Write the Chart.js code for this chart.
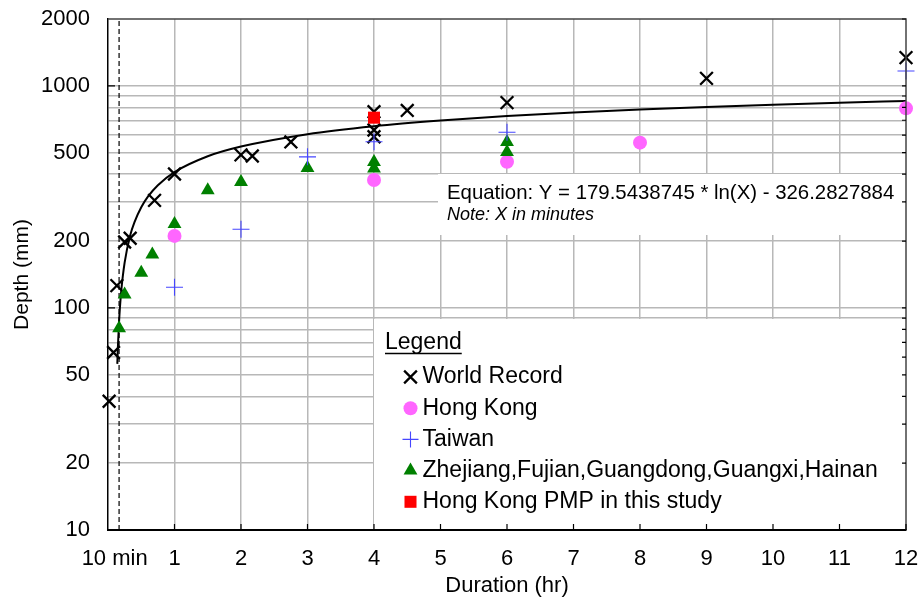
<!DOCTYPE html>
<html lang="en">
<head>
<meta charset="UTF-8">
<title>Depth-Duration Envelope</title>
<script src="https://cdn.jsdelivr.net/npm/chart.js"></script>
<style>
  html, body { margin: 0; padding: 0; background: #fff; }
  canvas { display: block; }
</style>
</head>
<body>
<canvas id="chart" width="921" height="599"></canvas>
<script>
// ---- data (duration in hours, depth in mm) ----
const wrHours  = [1/60, 5/60, 8/60, 15/60, 20/60, 42/60, 1, 2, 2.17, 2.75, 4, 4, 4, 4.5, 6, 9, 12];
const wrDepth  = [38, 63, 126, 198, 206, 305, 401, 489, 483, 559, 765, 633, 590, 775, 840, 1081, 1340];

const hkHours  = [1, 4, 6, 8, 12];
const hkDepth  = [211, 377, 455, 555, 792];

const twHours  = [1, 2, 3, 4, 6, 12];
const twDepth  = [124, 226, 479, 560, 618, 1166];

const cnHours  = [10/60, 15/60, 0.5, 40/60, 1, 1.5, 2, 3, 4, 4, 6, 6];
const cnDepth  = [81, 115, 144, 174, 239, 339, 369, 427, 454, 424, 559, 504];

const pmpHours = [4];
const pmpDepth = [719];

// fitted envelope curve as drawn
const fitHours = [0.14, 0.15, 10/60, 0.18, 0.2, 0.25, 1/3, 0.4, 0.5, 0.6, 0.75, 1, 1.5, 2, 3, 4, 5, 6, 7, 8, 9, 10, 11, 12];
const fitDepth = [56, 68, 87, 101, 120, 160, 212, 244, 284, 317, 357, 409, 482, 533, 606, 658, 698, 731, 758, 782, 803, 822, 839, 855];

const tenMin = 10 / 60;

// axis ticks
const xTickValues = [0.1, 1, 2, 3, 4, 5, 6, 7, 8, 9, 10, 11, 12];
const xTickLabels = ['10 min', '1', '2', '3', '4', '5', '6', '7', '8', '9', '10', '11', '12'];
const yGridValues = [10, 20, 30, 40, 50, 60, 70, 80, 90, 100, 200, 300, 400, 500, 600, 700, 800, 900, 1000, 2000];
const yTickLabels = [10, 20, 50, 100, 200, 500, 1000, 2000];

const FONT = "'Liberation Sans', Arial, Helvetica, sans-serif";
Chart.defaults.font.family = FONT;
Chart.defaults.color = '#000';

function pts(xs, ys) {
    return xs.map((x, i) => ({ x: x, y: ys[i] }));
}

const GRID = '#b8b8b8';

const framePlugin = {
    id: 'frame',
    beforeDatasetsDraw(chart) {
        const { ctx, chartArea: a } = chart;
        ctx.save();
        ctx.fillStyle = '#fff';
        // box behind the equation text
        ctx.fillRect(438, 174, a.right - 1 - 438, 61);
        // legend box
        ctx.fillRect(374, 319, a.right - 1 - 374, a.bottom - 320);
        ctx.restore();
    },
    afterDraw(chart) {
        const { ctx, chartArea: a, scales } = chart;
        const xs = scales.x, ys = scales.y;
        ctx.save();

        // top and right frame
        ctx.strokeStyle = '#444';
        ctx.lineWidth = 1.5;
        ctx.beginPath();
        ctx.moveTo(a.left, a.top);
        ctx.lineTo(a.right, a.top);
        ctx.lineTo(a.right, a.bottom);
        ctx.stroke();

        // small inside tick marks
        ctx.strokeStyle = '#000';
        ctx.lineWidth = 1.2;
        ctx.beginPath();
        [100, 1000].forEach(v => {
            const y = ys.getPixelForValue(v);
            ctx.moveTo(a.left, y); ctx.lineTo(a.left + 7, y);
        });
        yGridValues.forEach(v => {
            const y = ys.getPixelForValue(v);
            ctx.moveTo(a.right, y); ctx.lineTo(a.right - 4, y);
        });
        xTickValues.slice(1).forEach(v => {
            const x = xs.getPixelForValue(v);
            ctx.moveTo(x, a.bottom); ctx.lineTo(x, a.bottom - 6);
        });
        ctx.stroke();

        // equation
        ctx.fillStyle = '#000';
        ctx.textBaseline = 'middle';
        ctx.textAlign = 'left';
        ctx.font = '20.4px ' + FONT;
        ctx.fillText('Equation: Y = 179.5438745 * ln(X) - 326.2827884', 447, 193);
        ctx.font = 'italic 18px ' + FONT;
        ctx.fillText('Note: X in minutes', 447, 215);

        // legend
        ctx.font = '23px ' + FONT;
        ctx.fillText('Legend', 385, 343);
        const w = ctx.measureText('Legend').width;
        ctx.lineWidth = 1.5;
        ctx.beginPath();
        ctx.moveTo(385, 353.5); ctx.lineTo(385 + w, 353.5);
        ctx.stroke();

        const items = chart.data.datasets.filter(d => d.inLegend);
        items.forEach((d, i) => {
            const y = 377 + i * 31.2;
            ctx.fillStyle = d.backgroundColor || d.borderColor;
            ctx.strokeStyle = d.borderColor;
            ctx.lineWidth = d.borderWidth;
            Chart.helpers.drawPoint(ctx, {
                pointStyle: d.pointStyle,
                radius: d.legendRadius,
                borderWidth: d.borderWidth,
                rotation: 0
            }, 410.5, y);
            ctx.fillStyle = '#000';
            ctx.fillText(d.label, 422.5, y);
        });
        ctx.restore();
    }
};

new Chart(document.getElementById('chart'), {
    type: 'scatter',
    data: {
        datasets: [{
            label: 'World Record',
            data: pts(wrHours, wrDepth),
            pointStyle: 'crossRot',
            pointRadius: 9,
            legendRadius: 9,
            borderColor: '#000',
            backgroundColor: '#000',
            borderWidth: 2.3,
            inLegend: true,
            clip: false,
            order: 4
        }, {
            label: 'Hong Kong',
            data: pts(hkHours, hkDepth),
            pointStyle: 'circle',
            pointRadius: 7,
            legendRadius: 7,
            borderColor: '#ff66ff',
            backgroundColor: '#ff66ff',
            borderWidth: 0,
            inLegend: true,
            clip: false,
            order: 3
        }, {
            label: 'Taiwan',
            data: pts(twHours, twDepth),
            pointStyle: 'cross',
            pointRadius: 8.5,
            legendRadius: 8,
            borderColor: '#4646ff',
            backgroundColor: '#4646ff',
            borderWidth: 1.1,
            inLegend: true,
            clip: false,
            order: 1
        }, {
            label: 'Zhejiang,Fujian,Guangdong,Guangxi,Hainan',
            data: pts(cnHours, cnDepth),
            pointStyle: 'triangle',
            pointRadius: 8,
            legendRadius: 8,
            borderColor: '#008000',
            backgroundColor: '#008000',
            borderWidth: 0,
            inLegend: true,
            clip: false,
            order: 2
        }, {
            label: 'Hong Kong PMP in this study',
            data: pts(pmpHours, pmpDepth),
            pointStyle: 'rect',
            pointRadius: 8.5,
            legendRadius: 8.5,
            borderColor: '#ff0000',
            backgroundColor: '#ff0000',
            borderWidth: 0,
            inLegend: true,
            clip: false,
            order: 0
        }, {
            label: 'Fit',
            data: pts(fitHours, fitDepth),
            showLine: true,
            cubicInterpolationMode: 'monotone',
            borderColor: '#000',
            borderWidth: 2,
            pointRadius: 0,
            order: 5
        }, {
            label: '10 min',
            data: [{ x: tenMin, y: 10 }, { x: tenMin, y: 2000 }],
            showLine: true,
            borderColor: '#000',
            borderWidth: 1.2,
            borderDash: [5, 3],
            pointRadius: 0,
            order: 6
        }]
    },
    options: {
        responsive: false,
        animation: false,
        events: [],
        devicePixelRatio: 1,
        layout: { padding: { top: 19, right: 15, left: 0, bottom: 0 } },
        plugins: {
            legend: { display: false },
            tooltip: { enabled: false }
        },
        scales: {
            x: {
                type: 'linear',
                min: 0,
                max: 12,
                afterFit: s => { s.height = 69; s.paddingLeft = 0; s.paddingRight = 0; },
                afterBuildTicks: s => { s.ticks = xTickValues.map(v => ({ value: v })); },
                ticks: {
                    autoSkip: false,
                    maxRotation: 0,
                    padding: 16,
                    font: { size: 22 },
                    color: '#000',
                    callback: v => xTickLabels[xTickValues.indexOf(v)]
                },
                grid: {
                    drawTicks: false,
                    lineWidth: 1.5,
                    color: c => (c.tick && (c.tick.value === 0.1 || c.tick.value === 12)) ? 'rgba(0,0,0,0)' : GRID
                },
                border: { display: true, color: '#000', width: 2 },
                title: {
                    display: true,
                    text: 'Duration (hr)',
                    font: { size: 22 },
                    color: '#000',
                    padding: { top: 0, bottom: 0 }
                }
            },
            y: {
                type: 'logarithmic',
                min: 10,
                max: 2000,
                afterFit: s => { s.width = 108; s.paddingTop = 0; s.paddingBottom = 0; },
                afterBuildTicks: s => { s.ticks = yGridValues.map(v => ({ value: v })); },
                ticks: {
                    autoSkip: false,
                    padding: 18,
                    font: { size: 22 },
                    color: '#000',
                    callback: v => yTickLabels.includes(v) ? String(v) : ''
                },
                grid: {
                    drawTicks: false,
                    lineWidth: 1.5,
                    color: c => (c.tick && (c.tick.value === 10 || c.tick.value === 2000)) ? 'rgba(0,0,0,0)' : GRID
                },
                border: { display: true, color: '#000', width: 1.5 },
                title: {
                    display: true,
                    text: 'Depth (mm)',
                    font: { size: 21 },
                    color: '#000',
                    padding: { top: 10, bottom: 0 }
                }
            }
        }
    },
    plugins: [framePlugin]
});
</script>
</body>
</html>
